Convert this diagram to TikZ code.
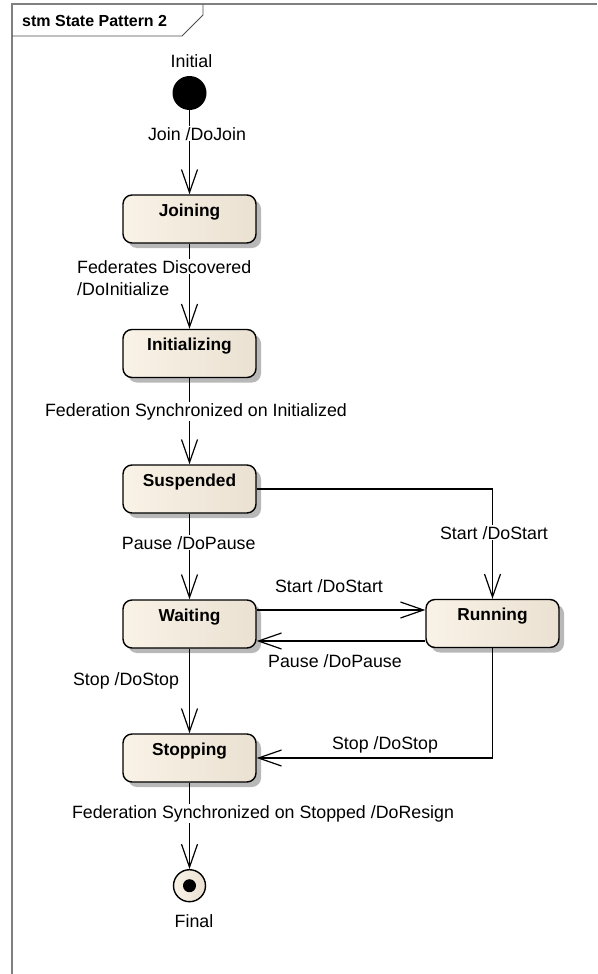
\documentclass[tikz,border=0pt]{standalone}
\usepackage{fontspec}
\setmainfont{Liberation Sans}
\usetikzlibrary{arrows.meta,shadows,calc}

\definecolor{stateL}{RGB}{249,242,230}
\definecolor{stateR}{RGB}{234,225,210}
\definecolor{framegray}{RGB}{128,128,128}

\tikzset{
  txt/.style={font=\fontsize{17.8}{20}\selectfont},
  lbl/.style={txt, inner sep=1pt, anchor=base},
  lblbg/.style={lbl, fill=white},
  state/.style={draw=black, line width=1.4pt, rounded corners=9pt,
    minimum width=133pt, minimum height=48pt, inner sep=0pt,
    left color=stateL, right color=stateR,
    font=\fontsize{17.3}{20}\selectfont\bfseries,
    text height=13pt, text depth=19pt,
    drop shadow={shadow xshift=5pt, shadow yshift=-5pt, fill=black!28, opacity=1}},
  trans/.style={line width=1.2pt, -{Straight Barb[length=23pt,width=16pt]}},
}

\begin{document}
\begin{tikzpicture}[x=1pt,y=-1pt]
  \useasboundingbox (0,0) rectangle (597,974);

  % diagram frame and its name tab
  \draw[framegray, line width=2pt] (12,974) -- (12,4.5) -- (597,4.5);
  \draw[black!70, line width=0.8pt] (12,36) -- (182,36) -- (203,15) -- (203,4.5);
  \node[font=\fontsize{16}{20}\selectfont\bfseries, anchor=base west, inner sep=0pt]
    (title) at (22,27) {stm State Pattern 2};

  % pseudo states
  \node[circle, fill=black, minimum size=34pt, inner sep=0pt] (ini) at (189.5,93) {};
  \node[lbl] (iniLbl) at (191.5,67) {Initial};

  \node[circle, draw=black, line width=1.4pt, minimum size=32pt, inner sep=0pt,
        left color=stateL, right color=stateR] (fin) at (189.5,885.7) {};
  \node[circle, fill=black, minimum size=13pt, inner sep=0pt] (finDot) at (fin.center) {};
  \node[lbl] (finLbl) at (194,927) {Final};

  % states
  \node[state] (join) at (189.5,219)   {Joining};
  \node[state] (init) at (189.5,353.5) {Initializing};
  \node[state] (susp) at (189.5,489)   {Suspended};
  \node[state] (wait) at (189.5,624)   {Waiting};
  \node[state] (run)  at (492.5,623.5) {Running};
  \node[state] (stop) at (189.5,758)   {Stopping};

  % transitions
  \draw[trans] (ini) -- (join);
  \draw[trans] (join) -- (init);
  \draw[trans] (init) -- (susp);
  \draw[trans] (susp) -- (wait);
  \draw[trans] (susp.east) -| (run.north);
  \coordinate (wr) at ($(wait.east)+(0,-14)$);
  \coordinate (rw) at ($(wait.east)+(0,17)$);
  \draw[trans] (wr) -- (run.west |- wr);
  \draw[trans] (run.west |- rw) -- (rw);
  \draw[trans] (wait) -- (stop);
  \draw[trans] (run.south) |- (stop.east);
  \draw[trans] (stop) -- (fin);

  % transition labels
  \node[lblbg] (l1) at (197,140) {Join /DoJoin};
  \node[lblbg, anchor=base west] (l2a) at (76,273) {Federates Discovered};
  \node[lbl, anchor=base west] (l2b) at (76,295) {/DoInitialize};
  \node[lblbg] (l3) at (196,416) {Federation Synchronized on Initialized};
  \node[lblbg] (l4) at (188.7,549) {Pause /DoPause};
  \node[lblbg] (l5) at (494,539) {Start /DoStart};
  \node[lbl] (l6) at (329,592) {Start /DoStart};
  \node[lbl] (l7) at (335,667) {Pause /DoPause};
  \node[lbl] (l8) at (126,685) {Stop /DoStop};
  \node[lbl] (l9) at (385,749) {Stop /DoStop};
  \node[lblbg] (l10) at (263,818) {Federation Synchronized on Stopped /DoResign};
\end{tikzpicture}
\end{document}
